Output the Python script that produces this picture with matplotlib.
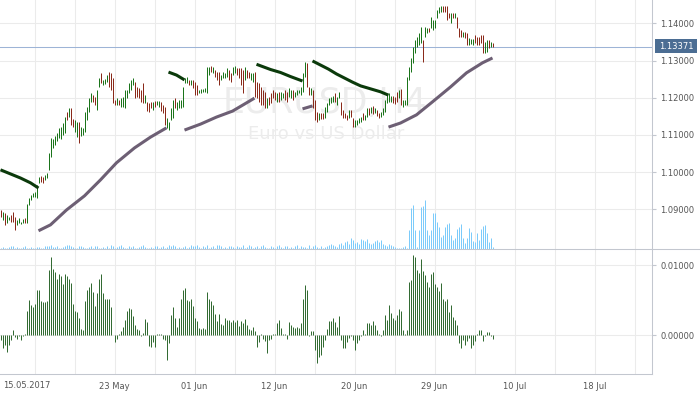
import matplotlib

# headless backend, the file only writes out.png
matplotlib.use("Agg")

import matplotlib.pyplot as plt
import numpy as np
from matplotlib.lines import Line2D
from matplotlib.patches import Rectangle

plt.rcParams["font.family"] = ["DejaVu Sans"]

# EURUSD H4 bars (index 0 = oldest bar)
highs = [
    1.0898, 1.0893, 1.0890, 1.0885, 1.0879, 1.0885, 1.0893, 1.0879, 1.0871, 1.0877,
    1.0866, 1.0874, 1.0877, 1.0914, 1.0930, 1.0938, 1.0944, 1.0947, 1.0965, 1.0987,
    1.0990, 1.0987, 1.0992, 1.0998, 1.1051, 1.1092, 1.1089, 1.1097, 1.1105, 1.1119,
    1.1121, 1.1132, 1.1148, 1.1162, 1.1172, 1.1172, 1.1143, 1.1140, 1.1135, 1.1135,
    1.1121, 1.1119, 1.1162, 1.1175, 1.1199, 1.1213, 1.1207, 1.1202, 1.1221, 1.1253,
    1.1267, 1.1248, 1.1250, 1.1261, 1.1269, 1.1267, 1.1253, 1.1194, 1.1199, 1.1194,
    1.1199, 1.1202, 1.1221, 1.1221, 1.1240, 1.1248, 1.1253, 1.1242, 1.1229, 1.1226,
    1.1221, 1.1240, 1.1207, 1.1189, 1.1186, 1.1189, 1.1189, 1.1191, 1.1191, 1.1191,
    1.1189, 1.1181, 1.1175, 1.1146, 1.1135, 1.1172, 1.1194, 1.1199, 1.1189, 1.1194,
    1.1194, 1.1229, 1.1253, 1.1256, 1.1248, 1.1248, 1.1248, 1.1242, 1.1234, 1.1221,
    1.1224, 1.1224, 1.1226, 1.1283, 1.1283, 1.1285, 1.1283, 1.1275, 1.1269, 1.1269,
    1.1261, 1.1269, 1.1267, 1.1280, 1.1275, 1.1267, 1.1283, 1.1285, 1.1280, 1.1280,
    1.1280, 1.1275, 1.1283, 1.1275, 1.1269, 1.1267, 1.1267, 1.1269, 1.1242, 1.1240,
    1.1229, 1.1221, 1.1216, 1.1199, 1.1202, 1.1213, 1.1221, 1.1216, 1.1213, 1.1216,
    1.1216, 1.1213, 1.1221, 1.1216, 1.1226, 1.1221, 1.1221, 1.1216, 1.1221, 1.1221,
    1.1229, 1.1267, 1.1296, 1.1294, 1.1229, 1.1226, 1.1221, 1.1194, 1.1162, 1.1159,
    1.1159, 1.1159, 1.1175, 1.1186, 1.1199, 1.1202, 1.1205, 1.1213, 1.1202, 1.1216,
    1.1189, 1.1167, 1.1159, 1.1154, 1.1167, 1.1167, 1.1146, 1.1140, 1.1140, 1.1146,
    1.1148, 1.1159, 1.1154, 1.1172, 1.1172, 1.1175, 1.1178, 1.1172, 1.1167, 1.1159,
    1.1162, 1.1172, 1.1194, 1.1210, 1.1213, 1.1205, 1.1205, 1.1202, 1.1216, 1.1221,
    1.1224, 1.1194, 1.1194, 1.1256, 1.1283, 1.1307, 1.1337, 1.1355, 1.1363, 1.1374,
    1.1390, 1.1355, 1.1390, 1.1388, 1.1388, 1.1417, 1.1409, 1.1409, 1.1436, 1.1444,
    1.1447, 1.1447, 1.1447, 1.1447, 1.1428, 1.1428, 1.1428, 1.1428, 1.1417, 1.1388,
    1.1382, 1.1377, 1.1377, 1.1374, 1.1361, 1.1358, 1.1358, 1.1369, 1.1363, 1.1363,
    1.1369, 1.1369, 1.1350, 1.1355, 1.1355, 1.1350, 1.1347,
]
lows = [
    1.0879, 1.0871, 1.0858, 1.0863, 1.0871, 1.0866, 1.0866, 1.0844, 1.0858, 1.0863,
    1.0860, 1.0863, 1.0863, 1.0863, 1.0911, 1.0925, 1.0933, 1.0933, 1.0930, 1.0971,
    1.0973, 1.0971, 1.0979, 1.0984, 1.1006, 1.1041, 1.1065, 1.1073, 1.1084, 1.1092,
    1.1089, 1.1100, 1.1105, 1.1140, 1.1148, 1.1127, 1.1121, 1.1108, 1.1094, 1.1078,
    1.1097, 1.1100, 1.1108, 1.1140, 1.1162, 1.1189, 1.1189, 1.1181, 1.1167, 1.1229,
    1.1240, 1.1234, 1.1237, 1.1242, 1.1229, 1.1221, 1.1186, 1.1181, 1.1181, 1.1181,
    1.1175, 1.1175, 1.1172, 1.1199, 1.1213, 1.1221, 1.1234, 1.1199, 1.1202, 1.1199,
    1.1189, 1.1186, 1.1186, 1.1164, 1.1162, 1.1172, 1.1167, 1.1175, 1.1181, 1.1175,
    1.1164, 1.1159, 1.1127, 1.1119, 1.1113, 1.1140, 1.1146, 1.1172, 1.1167, 1.1172,
    1.1172, 1.1175, 1.1240, 1.1240, 1.1234, 1.1234, 1.1226, 1.1207, 1.1207, 1.1213,
    1.1213, 1.1216, 1.1216, 1.1213, 1.1261, 1.1269, 1.1267, 1.1256, 1.1248, 1.1234,
    1.1248, 1.1253, 1.1253, 1.1256, 1.1248, 1.1242, 1.1261, 1.1267, 1.1261, 1.1253,
    1.1234, 1.1213, 1.1248, 1.1253, 1.1253, 1.1248, 1.1242, 1.1202, 1.1199, 1.1189,
    1.1181, 1.1181, 1.1172, 1.1172, 1.1181, 1.1186, 1.1199, 1.1194, 1.1189, 1.1189,
    1.1194, 1.1199, 1.1194, 1.1189, 1.1202, 1.1199, 1.1194, 1.1202, 1.1207, 1.1213,
    1.1207, 1.1216, 1.1256, 1.1229, 1.1207, 1.1207, 1.1172, 1.1140, 1.1135, 1.1140,
    1.1143, 1.1143, 1.1146, 1.1162, 1.1181, 1.1186, 1.1189, 1.1189, 1.1181, 1.1199,
    1.1154, 1.1146, 1.1146, 1.1140, 1.1146, 1.1148, 1.1121, 1.1121, 1.1127, 1.1132,
    1.1135, 1.1140, 1.1140, 1.1148, 1.1154, 1.1159, 1.1156, 1.1159, 1.1151, 1.1146,
    1.1148, 1.1154, 1.1162, 1.1186, 1.1189, 1.1189, 1.1186, 1.1183, 1.1189, 1.1199,
    1.1181, 1.1175, 1.1181, 1.1181, 1.1248, 1.1269, 1.1294, 1.1320, 1.1337, 1.1342,
    1.1347, 1.1296, 1.1363, 1.1374, 1.1377, 1.1388, 1.1382, 1.1388, 1.1415, 1.1428,
    1.1431, 1.1431, 1.1431, 1.1409, 1.1415, 1.1401, 1.1415, 1.1415, 1.1388, 1.1363,
    1.1363, 1.1363, 1.1361, 1.1342, 1.1342, 1.1345, 1.1342, 1.1347, 1.1342, 1.1342,
    1.1347, 1.1320, 1.1320, 1.1323, 1.1334, 1.1337, 1.1337,
]
# g = bullish bar, r = bearish bar
bar_dirs = list(
    "rgrggrrrgg" "ggrggggggg" "rrgggggggg" "gggrgrrggr" "ggggggrrgg"
    "rgggrrrrgr" "gggggggrrr" "rrgrrrgrgg" "rrrggggrgg" "ggggrgrrrg"
    "gggggrgrrr" "ggggrrggrr" "rrgrrggrrr" "rrrgrrrrgr" "ggrrggrggg"
    "gggrrgrrrg" "rrgggggrgg" "rrrrgrrggg" "grggrgrgrr" "ggggggrrrg"
    "rggggggggg" "grggrggggg" "grrrrgrgrr" "rgrrgggrrr" "rrggrgr"
)
# tick volume (relative)
volumes = [
    1, 2, 1, 1, 2, 3, 3, 1, 2, 1, 1, 2, 3, 1, 1, 2, 1, 1, 2, 2,
    1, 1, 3, 3, 3, 4, 2, 2, 3, 1, 1, 2, 3, 4, 4, 3, 2, 1, 1, 3,
    3, 2, 1, 1, 2, 3, 1, 3, 3, 1, 1, 2, 1, 3, 1, 4, 3, 1, 2, 3,
    4, 2, 1, 1, 3, 2, 3, 1, 1, 2, 3, 4, 2, 1, 1, 2, 1, 3, 3, 1,
    2, 3, 1, 2, 4, 3, 4, 3, 1, 2, 1, 2, 3, 1, 2, 4, 3, 3, 4, 2,
    1, 3, 2, 4, 1, 2, 3, 1, 4, 4, 3, 1, 2, 1, 3, 3, 2, 1, 3, 2,
    2, 4, 1, 2, 4, 3, 1, 2, 3, 1, 3, 4, 2, 1, 1, 3, 2, 1, 3, 4,
    2, 1, 3, 3, 1, 2, 1, 3, 4, 1, 3, 2, 2, 1, 4, 1, 3, 4, 2, 1,
    3, 1, 2, 3, 4, 5, 4, 3, 2, 5, 6, 4, 7, 8, 5, 11, 9, 6, 7, 5,
    10, 9, 8, 10, 6, 5, 6, 8, 9, 7, 9, 5, 4, 3, 5, 4, 3, 2, 1, 1,
    1, 2, 3, 1,
    19, 41, 44, 19, 2, 19, 42, 43, 49, 19, 14, 19, 36, 36, 27, 22, 12, 14, 22, 25,
    26, 14, 9, 11, 20, 22, 25, 11, 6, 11, 21, 17, 8, 7, 16, 9, 20, 23, 24, 16,
    7, 11, 2,
]
# lower oscillator histogram
osc = [
    -0.0007, -0.0019, -0.0014, -0.0024, -0.0014, -0.0007, 0.0007, -0.0003, -0.0005, -0.0002,
    -0.0007, -0.0002, 0.0001, 0.0035, 0.0050, 0.0043, 0.0040, 0.0045, 0.0064, 0.0064,
    0.0048, 0.0047, 0.0047, 0.0048, 0.0093, 0.0112, 0.0094, 0.0090, 0.0080, 0.0087,
    0.0085, 0.0073, 0.0087, 0.0084, 0.0080, 0.0075, 0.0045, 0.0035, 0.0033, 0.0025,
    0.0009, 0.0007, 0.0048, 0.0064, 0.0068, 0.0075, 0.0062, 0.0041, 0.0060, 0.0080,
    0.0087, 0.0060, 0.0052, 0.0051, 0.0052, 0.0040, 0.0000, -0.0010, -0.0006, 0.0001,
    0.0006, 0.0011, 0.0021, 0.0034, 0.0038, 0.0037, 0.0027, 0.0014, 0.0009, 0.0007,
    -0.0002, 0.0003, 0.0023, 0.0019, -0.0016, -0.0017, -0.0010, -0.0017, 0.0001, 0.0001,
    0.0001, -0.0006, -0.0007, -0.0035, -0.0012, 0.0028, 0.0040, 0.0024, 0.0011, 0.0025,
    0.0051, 0.0064, 0.0067, 0.0050, 0.0049, 0.0052, 0.0041, 0.0025, 0.0020, 0.0010,
    0.0009, 0.0010, 0.0008, 0.0062, 0.0051, 0.0049, 0.0043, 0.0030, 0.0020, 0.0030,
    0.0016, 0.0014, 0.0024, 0.0022, 0.0021, 0.0019, 0.0021, 0.0018, 0.0021, 0.0013,
    0.0020, 0.0017, 0.0023, 0.0014, 0.0009, 0.0007, 0.0011, 0.0006, -0.0017, -0.0010,
    0.0001, -0.0006, -0.0008, -0.0026, -0.0007, -0.0006, 0.0001, 0.0002, 0.0017, 0.0021,
    0.0010, 0.0001, 0.0001, -0.0006, 0.0019, 0.0014, 0.0012, 0.0010, 0.0011, 0.0010,
    0.0017, 0.0052, 0.0071, 0.0064, -0.0001, 0.0006, 0.0006, -0.0021, -0.0040, -0.0032,
    -0.0029, -0.0017, -0.0007, 0.0008, 0.0020, 0.0020, 0.0025, 0.0019, 0.0011, 0.0027,
    -0.0007, -0.0018, -0.0019, -0.0010, -0.0004, -0.0002, -0.0007, -0.0021, -0.0012, -0.0007,
    -0.0002, 0.0007, 0.0002, 0.0017, 0.0017, 0.0015, 0.0020, 0.0014, 0.0007, 0.0002,
    -0.0002, 0.0007, 0.0029, 0.0022, 0.0043, 0.0032, 0.0025, 0.0021, 0.0029, 0.0037,
    0.0035, 0.0007, 0.0002, 0.0007, 0.0076, 0.0079, 0.0114, 0.0112, 0.0093, 0.0088,
    0.0109, 0.0092, 0.0086, 0.0076, 0.0069, 0.0087, 0.0090, 0.0073, 0.0069, 0.0063,
    0.0074, 0.0052, 0.0048, 0.0051, 0.0033, 0.0043, 0.0026, 0.0021, 0.0014, -0.0012,
    -0.0019, -0.0007, -0.0014, -0.0009, -0.0004, -0.0019, -0.0014, -0.0009, 0.0002, 0.0007,
    0.0007, -0.0009, -0.0002, 0.0005, 0.0005, -0.0002, -0.0005,
]

# trend lines: dark one above price while falling, grey one below while rising
res_x = [[0, 5, 10, 15, 19], [84, 88, 92], [128, 135, 140, 145, 151],
         [156, 160, 164, 168, 172, 176, 180, 185, 190, 194]]
res_y = [[1.1006, 1.0995, 1.0984, 1.0971, 1.0957], [1.1269, 1.1261, 1.1248],
         [1.1290, 1.1276, 1.1268, 1.1257, 1.1245],
         [1.1299, 1.1288, 1.1277, 1.1264, 1.1253, 1.1242, 1.1232, 1.1224, 1.1216, 1.1207]]
sup_x = [[19, 25, 33, 42, 50, 58, 67, 75, 83], [92, 100, 108, 116, 122, 127], [151, 156],
         [194, 200, 208, 216, 225, 233, 241, 246]]
sup_y = [[1.0842, 1.0858, 1.0898, 1.0936, 1.0979, 1.1025, 1.1065, 1.1094, 1.1119],
         [1.1113, 1.1129, 1.1148, 1.1164, 1.1183, 1.1199], [1.1170, 1.1178],
         [1.1121, 1.1132, 1.1154, 1.1189, 1.1229, 1.1267, 1.1294, 1.1307]]

price_ticks = [1.09, 1.10, 1.11, 1.12, 1.13, 1.14]
osc_ticks = [0.0, 0.01]
date_labels = ["15.05.2017", "", "23 May", "", "01 Jun", "", "12 Jun", "", "20 Jun", "",
               "29 Jun", "", "10 Jul", "", "18 Jul", ""]
last_price = 1.13371

GRID = "#ebebeb"
AXIS = "#c3c7cf"
TEXT = "#555555"
BAR_LW = 0.72  # one pixel at 100 dpi

W, H = 700, 394
fig = plt.figure(figsize=(W / 100, H / 100), dpi=100)
ax = fig.add_axes([0, 145 / H, 652 / W, 249 / H])
axo = fig.add_axes([0, 20 / H, 652 / W, 125 / H], sharex=ax)

# 2 px per bar; the quarter offset puts every bar in the middle of a pixel column
XLIM = (-0.25, 325.75)

# volume sits on its own scale at the bottom of the price panel
# (twinx moves the host ticks to the left, so make it before styling ax)
axv = ax.twinx()
axv.set_ylim(0, 249)
axv.vlines(np.arange(len(volumes)), 0, volumes, colors="#7ccbfa", linewidth=BAR_LW)
axv.axis("off")

idx = np.arange(len(highs))
grid_x = 17 + 20 * np.arange(len(date_labels))

# price panel
ax.set_xlim(*XLIM)
ax.set_ylim(1.0793, 1.1463)
ax.set_xticks(grid_x)
ax.set_yticks(price_ticks)
ax.yaxis.set_major_formatter(plt.FormatStrFormatter("%.5f"))
ax.yaxis.tick_right()
ax.grid(True, color=GRID, linewidth=0.75)
ax.set_axisbelow(True)
ax.tick_params(axis="x", length=0, labelbottom=False)
ax.tick_params(axis="y", length=3, color=AXIS, labelcolor=TEXT, labelsize=6, pad=3)
for side in ["top", "left", "bottom"]:
    ax.spines[side].set_visible(False)
ax.spines["right"].set_color(AXIS)
ax.spines["right"].set_linewidth(0.75)

ax.text(0.498, 0.585, "EURUSD,H4", transform=ax.transAxes, ha="center", va="center",
        fontsize=25, color="#ececec", zorder=0.6)
ax.text(0.5, 0.462, "Euro vs US Dollar", transform=ax.transAxes, ha="center", va="center",
        fontsize=13, color="#ececec", zorder=0.6)

bar_colors = ["#1b741b" if d == "g" else "#8a2a1a" for d in bar_dirs]
ax.vlines(idx, lows, highs, colors=bar_colors, linewidth=BAR_LW, zorder=3)

for xs, ys in zip(res_x, res_y):
    ax.plot(xs, ys, color="#0b3a0b", linewidth=2.2, solid_capstyle="butt", zorder=4)
for xs, ys in zip(sup_x, sup_y):
    ax.plot(xs, ys, color="#6d5f74", linewidth=2.2, solid_capstyle="butt", zorder=4)

ax.axhline(last_price, color="#9db4d6", linewidth=0.75, zorder=2)

# oscillator panel
axo.set_xlim(*XLIM)
axo.set_ylim(-0.00557, 0.01229)
axo.set_yticks(osc_ticks)
axo.yaxis.set_major_formatter(plt.FormatStrFormatter("%.5f"))
axo.yaxis.tick_right()
axo.grid(True, color=GRID, linewidth=0.75)
axo.set_axisbelow(True)
axo.set_xticks(grid_x)
axo.set_xticklabels([""] + date_labels[1:])
axo.tick_params(axis="x", length=0, labelcolor=TEXT, labelsize=6, pad=6)
axo.tick_params(axis="y", length=3, color=AXIS, labelcolor=TEXT, labelsize=6, pad=3)
for side in ["top", "left"]:
    axo.spines[side].set_visible(False)
for side in ["right", "bottom"]:
    axo.spines[side].set_color(AXIS)
    axo.spines[side].set_linewidth(0.75)
axo.vlines(np.arange(len(osc)), 0, osc, colors="#336b33", linewidth=BAR_LW, zorder=3)

# first date label is pushed inside the left edge
fig.text(3 / W, 1 - 386 / H, date_labels[0], ha="left", va="center", fontsize=6, color=TEXT)

# panel separator runs across the whole width
fig.add_artist(Line2D([0, 1], [145 / H, 145 / H], transform=fig.transFigure,
                      color=AXIS, linewidth=0.75))

# last price tag on the right axis
fig.add_artist(Rectangle((655 / W, 1 - 53.3 / H), 42 / W, 14 / H, transform=fig.transFigure,
                         facecolor="#4b6d93", edgecolor="none"))
fig.text(676 / W, 1 - 46.5 / H, f"{last_price:.5f}", ha="center", va="center",
         fontsize=6, color="white")

fig.savefig("out.png", dpi=100)
